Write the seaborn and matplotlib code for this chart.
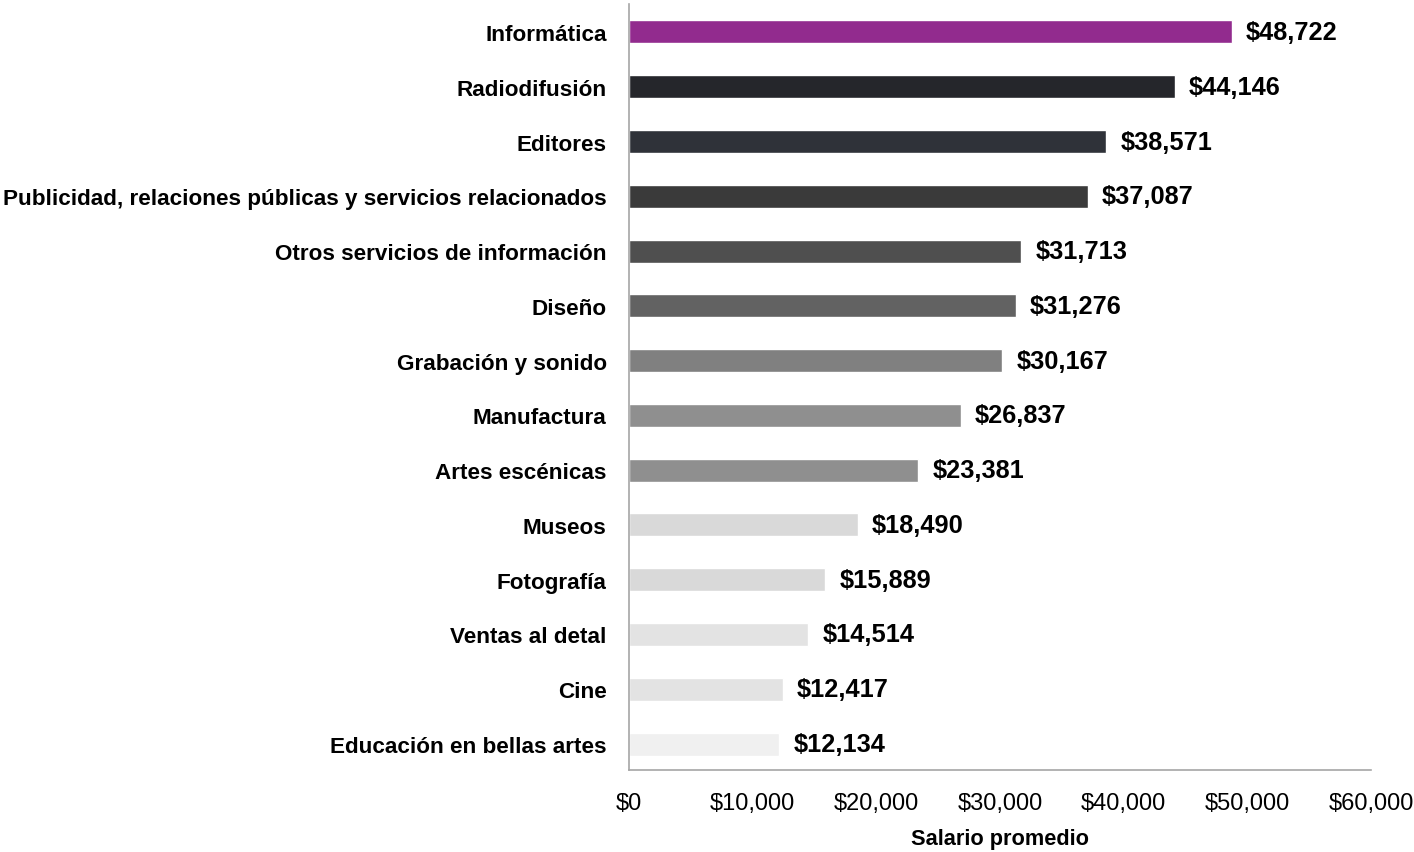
import pandas as pd
import matplotlib.pyplot as plt
import seaborn as sns
from matplotlib.ticker import FuncFormatter

categories = [
    'Informática', 'Radiodifusión', 'Editores',
    'Publicidad, relaciones públicas y servicios relacionados',
    'Otros servicios de información', 'Diseño', 'Grabación y sonido',
    'Manufactura', 'Artes escénicas', 'Museos', 'Fotografía',
    'Ventas al detal', 'Cine', 'Educación en bellas artes',
]
salaries = [48722, 44146, 38571, 37087, 31713, 31276, 30167,
            26837, 23381, 18490, 15889, 14514, 12417, 12134]
bar_colors = ['#922B8E', '#25262B', '#2F3239', '#3A3A3A', '#4F4F4F',
              '#626262', '#808080', '#8F8F8F', '#8F8F8F', '#D9D9D9',
              '#D9D9D9', '#E3E3E3', '#E3E3E3', '#F0F0F0']

df = pd.DataFrame({'categoria': categories, 'salario': salaries})

sns.set_style('white')
plt.rcParams['font.family'] = ['Liberation Sans', 'DejaVu Sans']
plt.rcParams['text.color'] = 'black'

fig = plt.figure(figsize=(14.14, 8.53), dpi=100)
ax = fig.add_axes([0.4448, 0.0961, 0.5248, 0.898])

sns.barplot(data=df, y='categoria', x='salario', hue='categoria',
            palette=bar_colors, legend=False, width=0.42, orient='h',
            saturation=1, ax=ax)

# etiquetas de valor
for i, v in enumerate(salaries):
    ax.text(v + 1150, i, f'${v:,}', va='center', ha='left',
            fontsize=18.3, fontweight='bold', color='black')

ax.set_xlim(0, 60000)
ax.set_ylim(13.475, -0.51)
ax.set_xticks(range(0, 60001, 10000))
ax.xaxis.set_major_formatter(FuncFormatter(lambda x, p: f'${int(x):,}'))
ax.tick_params(axis='x', labelsize=17, pad=16, length=0, labelcolor='black')
ax.tick_params(axis='y', labelsize=16.2, pad=16, length=0, labelcolor='black')
for lbl in ax.get_yticklabels():
    lbl.set_fontweight('bold')

ax.set_ylabel('')
ax.set_xlabel('Salario promedio', fontsize=15.7, fontweight='bold',
              labelpad=10, color='black')

sns.despine(ax=ax)
for side in ['left', 'bottom']:
    ax.spines[side].set_color('#A6A6A6')
    ax.spines[side].set_linewidth(1.2)

fig.savefig('out.png', dpi=100)
